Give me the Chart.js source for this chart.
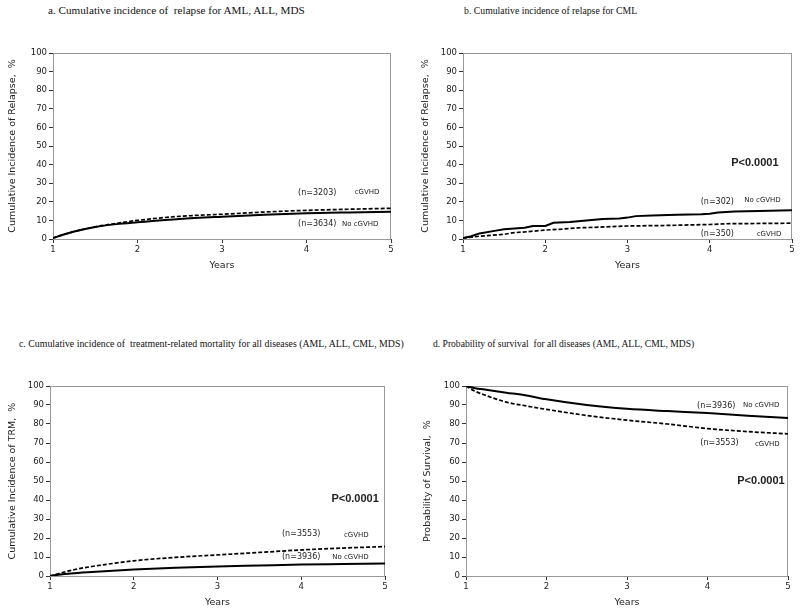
<!DOCTYPE html>
<html>
<head>
<meta charset="utf-8">
<script src="https://cdn.jsdelivr.net/npm/chart.js@4"></script>
<style>
  body { margin: 0; background: #fff; }
  #page { position: relative; width: 800px; height: 613px; overflow: hidden; background: #fff; }
  .title { position: absolute; font-family: "Liberation Serif", serif; font-size: 11px; line-height: 12px; color: #111; white-space: pre; transform-origin: 0 50%; }
  .panel { position: absolute; width: 400px; height: 240px; }
</style>
</head>
<body>
<div id="page">
  <div class="title" style="left:48px;top:4px;transform:scaleX(1.015)">a. Cumulative incidence of  relapse for AML, ALL, MDS</div>
  <div class="title" style="left:464px;top:4px;transform:scaleX(0.887)">b. Cumulative incidence of relapse for CML</div>
  <div class="title" style="left:19px;top:337px;transform:scaleX(0.895)">c. Cumulative incidence of  treatment-related mortality for all diseases (AML, ALL, CML, MDS)</div>
  <div class="title" style="left:433px;top:337px;transform:scaleX(0.87)">d. Probability of survival  for all diseases (AML, ALL, CML, MDS)</div>
  <div class="panel" style="left:0;top:40px"><canvas id="chartA" width="400" height="240"></canvas></div>
  <div class="panel" style="left:400px;top:40px"><canvas id="chartB" width="400" height="240"></canvas></div>
  <div class="panel" style="left:0;top:373px"><canvas id="chartC" width="400" height="240"></canvas></div>
  <div class="panel" style="left:400px;top:373px"><canvas id="chartD" width="400" height="240"></canvas></div>
</div>
<script>
// Years grid shared by the smooth curves (panels a, c, d)
const years = [1, 1.1, 1.25, 1.5, 1.75, 2, 2.5, 3, 3.5, 4, 4.5, 5];

// a. relapse, AML/ALL/MDS
const relapseAmlNoGvhd = [0.5, 2, 4, 6.5, 8, 9, 10.8, 12, 13, 13.8, 14.3, 14.7];
const relapseAmlGvhd = [0.5, 2, 4, 6.6, 8.4, 10, 12.2, 13.3, 14.5, 15.4, 16, 16.5];

// b. relapse, CML (step-like curves, own time points)
const cmlNoGvhdYears = [1, 1.1, 1.2, 1.4, 1.5, 1.75, 1.85, 2, 2.1, 2.3, 2.5, 2.7, 2.9, 3, 3.1, 3.3, 3.6, 3.9, 4, 4.1, 4.3, 4.6, 5];
const cmlNoGvhd = [0.5, 1.5, 3, 4.5, 5.3, 6, 7, 7, 8.7, 9.2, 10, 10.8, 11, 11.5, 12.3, 12.7, 13, 13.3, 13.6, 14.2, 14.8, 15, 15.5];
const cmlGvhdYears = [1, 1.2, 1.5, 1.6, 1.8, 2, 2.2, 2.4, 2.6, 3, 3.5, 4, 4.2, 5];
const cmlGvhd = [0.5, 1.5, 2.5, 3.3, 4, 4.8, 5.3, 6, 6.3, 7, 7.3, 7.8, 8.2, 8.5];

// c. treatment-related mortality
const trmGvhd = [0, 1.2, 3, 5, 6.6, 8, 9.8, 11.1, 12.4, 13.7, 14.7, 15.5];
const trmNoGvhd = [0, 0.6, 1.3, 2.1, 2.8, 3.4, 4.3, 5, 5.5, 6, 6.3, 6.6];

// d. survival
const survNoGvhd = [100, 99, 98, 96.5, 95, 93, 90, 88, 86.8, 85.8, 84.4, 83.2];
const survGvhd = [100, 97.5, 95, 91.5, 89.5, 87.7, 84.5, 82, 80, 77.6, 76, 74.8];

const yTicks = { min: 0, max: 100, step: 10 };
const xTicks = { min: 1, max: 5, step: 1 };

function pts(xs, ys) {
  return xs.map((x, i) => ({ x: x, y: ys[i] }));
}

// draws the grey frame and the text notes placed in data units
const notesPlugin = {
  id: "notes",
  beforeDatasetsDraw(chart) {
    const a = chart.chartArea;
    const ctx = chart.ctx;
    ctx.save();
    ctx.strokeStyle = "#999";
    ctx.lineWidth = 1;
    ctx.strokeRect(a.left + 0.5, a.top + 0.5, a.right - a.left - 1, a.bottom - a.top);
    ctx.restore();
  },
  afterDatasetsDraw(chart, args, opts) {
    const ctx = chart.ctx;
    const xs = chart.scales.x, ys = chart.scales.y;
    ctx.save();
    ctx.fillStyle = "#222";
    ctx.textBaseline = "middle";
    ctx.textAlign = "left";
    (opts.items || []).forEach((n) => {
      ctx.font = n.font;
      ctx.fillText(n.text, xs.getPixelForValue(n.x), ys.getPixelForValue(n.y));
    });
    ctx.restore();
  },
};

const nFont = '8px "DejaVu Sans"';
const gFont = '7px "DejaVu Sans"';
const pFont = 'bold 11px "Liberation Sans"';

function makeChart(id, cfg) {
  const solid = {
    data: cfg.solid,
    borderColor: "#000",
    borderWidth: 2,
    pointRadius: 0,
    cubicInterpolationMode: cfg.stepped ? "default" : "monotone",
    tension: 0,
  };
  const dashed = {
    data: cfg.dashed,
    borderColor: "#000",
    borderWidth: 1.7,
    borderDash: [4, 2],
    pointRadius: 0,
    cubicInterpolationMode: cfg.stepped ? "default" : "monotone",
    tension: 0,
  };
  return new Chart(document.getElementById(id), {
    type: "line",
    data: { datasets: [solid, dashed] },
    options: {
      responsive: false,
      animation: false,
      layout: { padding: { top: 13, right: cfg.padRight, left: 0, bottom: 0 } },
      plugins: {
        legend: { display: false },
        tooltip: { enabled: false },
        notes: { items: cfg.notes },
      },
      scales: {
        x: {
          type: "linear",
          min: xTicks.min,
          max: xTicks.max,
          ticks: { stepSize: xTicks.step, color: "#222", padding: 2, font: { family: "DejaVu Sans", size: 8.5 } },
          grid: { drawOnChartArea: false, drawTicks: true, tickLength: 4, color: "#333" },
          border: { color: "#333", width: 1 },
          title: { display: true, text: "Years", color: "#222", font: { family: "DejaVu Sans", size: 9.5 }, padding: { top: 0, bottom: cfg.yearsPad } },
          afterFit(scale) { scale.height = cfg.xHeight; },
        },
        y: {
          min: yTicks.min,
          max: yTicks.max,
          ticks: { stepSize: yTicks.step, color: "#222", padding: 2, font: { family: "DejaVu Sans", size: 8.5 } },
          grid: { drawOnChartArea: false, drawTicks: true, tickLength: 4, color: "#333" },
          border: { color: "#333", width: 1 },
          title: { display: true, text: cfg.yTitle, color: "#222", font: { family: "DejaVu Sans", size: 9.5 }, padding: { top: cfg.yTitlePad, bottom: 0 } },
          afterFit(scale) { scale.width = cfg.yWidth; },
        },
      },
    },
    plugins: [notesPlugin],
  });
}

makeChart("chartA", {
  solid: pts(years, relapseAmlNoGvhd),
  dashed: pts(years, relapseAmlGvhd),
  yTitle: "Cumulative Incidence of Relapse,  %",
  yWidth: 53, yTitlePad: 7, padRight: 9, xHeight: 41, yearsPad: 9,
  notes: [
    { x: 3.9, y: 25, text: "(n=3203)", font: nFont },
    { x: 4.57, y: 25, text: "cGVHD", font: gFont },
    { x: 3.9, y: 8, text: "(n=3634)", font: nFont },
    { x: 4.42, y: 8, text: "No cGVHD", font: gFont },
  ],
});

makeChart("chartB", {
  solid: pts(cmlNoGvhdYears, cmlNoGvhd),
  dashed: pts(cmlGvhdYears, cmlGvhd),
  stepped: true,
  yTitle: "Cumulative Incidence of Relapse,  %",
  yWidth: 63, yTitlePad: 20, padRight: 8, xHeight: 41, yearsPad: 9,
  notes: [
    { x: 4.26, y: 41, text: "P<0.0001", font: pFont },
    { x: 3.89, y: 20, text: "(n=302)", font: nFont },
    { x: 4.42, y: 21, text: "No cGVHD", font: gFont },
    { x: 3.89, y: 2.7, text: "(n=350)", font: nFont },
    { x: 4.57, y: 2.7, text: "cGVHD", font: gFont },
  ],
});

makeChart("chartC", {
  solid: pts(years, trmNoGvhd),
  dashed: pts(years, trmGvhd),
  yTitle: "Cumulative Incidence of TRM,  %",
  yWidth: 50, yTitlePad: 7, padRight: 15, xHeight: 37, yearsPad: 5,
  notes: [
    { x: 4.36, y: 40.5, text: "P<0.0001", font: pFont },
    { x: 3.77, y: 22, text: "(n=3553)", font: nFont },
    { x: 4.51, y: 21.5, text: "cGVHD", font: gFont },
    { x: 3.77, y: 10, text: "(n=3936)", font: nFont },
    { x: 4.37, y: 10, text: "No cGVHD", font: gFont },
  ],
});

makeChart("chartD", {
  solid: pts(years, survNoGvhd),
  dashed: pts(years, survGvhd),
  yTitle: "Probability of Survival,  %",
  yWidth: 66, yTitlePad: 22, padRight: 12, xHeight: 37, yearsPad: 5,
  notes: [
    { x: 3.87, y: 89.5, text: "(n=3936)", font: nFont },
    { x: 4.44, y: 90, text: "No cGVHD", font: gFont },
    { x: 3.91, y: 70, text: "(n=3553)", font: nFont },
    { x: 4.59, y: 69.5, text: "cGVHD", font: gFont },
    { x: 4.37, y: 50, text: "P<0.0001", font: pFont },
  ],
});
</script>
</body>
</html>
